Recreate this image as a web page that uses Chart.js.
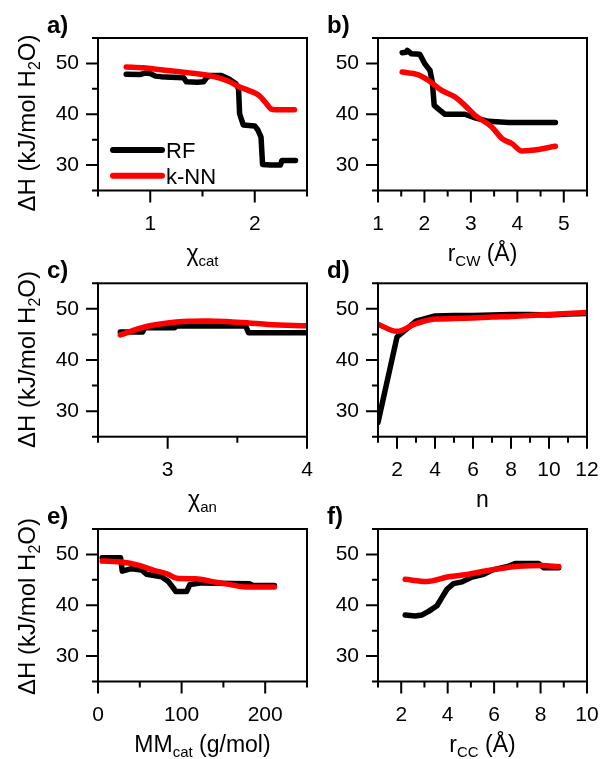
<!DOCTYPE html>
<html>
<head>
<meta charset="utf-8">
<script src="https://cdn.jsdelivr.net/npm/chart.js@4.4.1/dist/chart.umd.min.js"></script>
<style>
  html, body { margin: 0; padding: 0; background: #fff; }
  #page { position: relative; width: 600px; height: 759px; overflow: hidden; background: #fff; }
  #page canvas { position: absolute; left: 0; top: 0; }
</style>
</head>
<body>
<div id="page"></div>
<script>
// ---- shared value axis (ΔH, kJ/mol H2O) ----
const yMin = 25, yMax = 55;
const yMajorTicks = [30, 40, 50];
const yMinorTicks = [25, 35, 45, 55];

// ---- a) electronegativity of the cation ----
const xcatRange = [0.5, 2.5];
const xcatTicks = [1, 2];
const xcatMinor = [0.5, 1.5, 2.5];
const xcatRF_x  = [0.77, 0.90, 0.95, 1.00, 1.05, 1.10, 1.20, 1.32, 1.345, 1.45, 1.51, 1.54, 1.57, 1.68, 1.75, 1.82, 1.845, 1.855, 1.89, 2.00, 2.03, 2.06, 2.075, 2.15, 2.245, 2.26, 2.39];
const xcatRF_y  = [47.85, 47.8, 48.1, 48.0, 47.5, 47.4, 47.3, 47.2, 46.4, 46.3, 46.4, 47.2, 47.6, 47.6, 47.0, 46.0, 45.0, 40.1, 37.9, 37.7, 36.9, 35.5, 30.1, 30.0, 30.0, 30.9, 30.9];
const xcatKNN_x = [0.77, 0.94, 1.10, 1.26, 1.43, 1.59, 1.75, 1.85, 1.94, 2.04, 2.10, 2.16, 2.20, 2.38];
const xcatKNN_y = [49.3, 49.15, 48.75, 48.4, 48.0, 47.5, 46.5, 45.4, 44.7, 43.7, 42.4, 41.0, 40.9, 40.9];

// ---- b) cation-water distance ----
const rcwRange = [1, 5.5];
const rcwTicks = [1, 2, 3, 4, 5];
const rcwMinor = [1.5, 2.5, 3.5, 4.5, 5.5];
const rcwRF_x  = [1.52, 1.60, 1.63, 1.72, 1.90, 2.01, 2.12, 2.17, 2.21, 2.33, 2.44, 2.87, 3.09, 3.38, 3.81, 4.82];
const rcwRF_y  = [52.1, 52.2, 52.55, 51.9, 51.8, 49.9, 48.6, 46.3, 41.75, 40.8, 40.0, 40.0, 39.3, 38.6, 38.4, 38.4];
const rcwKNN_x = [1.52, 1.86, 2.08, 2.37, 2.66, 2.87, 3.09, 3.45, 3.67, 3.88, 4.10, 4.31, 4.82];
const rcwKNN_y = [48.3, 47.8, 46.7, 44.7, 43.4, 41.75, 39.8, 37.5, 35.2, 34.25, 32.75, 32.9, 33.7];

// ---- c) electronegativity of the anion ----
const xanRange = [2.5, 4];
const xanTicks = [3, 4];
const xanMinor = [2.5, 3.5];
const xanRF_x  = [2.66, 2.82, 2.835, 3.05, 3.065, 3.56, 3.58, 4.0];
const xanRF_y  = [45.5, 45.5, 46.3, 46.3, 46.65, 46.65, 45.35, 45.35];
const xanKNN_x = [2.66, 2.84, 2.96, 3.15, 3.29, 3.44, 3.58, 3.72, 4.0];
const xanKNN_y = [44.9, 46.5, 47.1, 47.6, 47.65, 47.5, 47.25, 46.95, 46.7];

// ---- d) hydration number ----
const nRange = [1, 12];
const nTicks = [2, 4, 6, 8, 10, 12];
const nMinor = [1, 3, 5, 7, 9, 11];
const nValues = [1, 2, 3, 4, 5, 6, 7, 8, 9, 10, 11, 12];
const nRF_y   = [27.8, 44.5, 47.6, 48.6, 48.7, 48.7, 48.8, 48.9, 48.9, 48.8, 49.0, 49.1];
const nKNN_y  = [47.0, 45.6, 47.1, 48.0, 48.1, 48.2, 48.4, 48.5, 48.7, 48.9, 49.1, 49.3];

// ---- e) molar mass of the cation ----
const mmRange = [0, 250];
const mmTicks = [0, 100, 200];
const mmMinor = [50, 150, 250];
const mmRF_x  = [5, 27, 29, 40, 52, 58, 76, 84, 91, 93, 106, 110, 124, 181, 185, 211];
const mmRF_y  = [49.35, 49.35, 46.7, 47.2, 46.95, 46.1, 45.6, 44.7, 43.2, 42.7, 42.7, 44.1, 44.4, 44.25, 43.95, 43.9];
const mmKNN_x = [5, 28, 48, 66, 82.5, 94.6, 116.7, 137, 157, 177, 211];
const mmKNN_y = [48.7, 48.5, 47.9, 46.9, 46.2, 45.3, 45.2, 44.65, 44.1, 43.6, 43.6];

// ---- f) cation-cation distance ----
const rccRange = [1, 10];
const rccTicks = [2, 4, 6, 8, 10];
const rccMinor = [1, 3, 5, 7, 9];
const rccRF_x  = [2.17, 2.6, 2.9, 3.18, 3.54, 3.75, 3.97, 4.25, 4.62, 5.05, 5.55, 5.9, 6.63, 6.91, 7.92, 8.13, 8.78];
const rccRF_y  = [38.1, 37.9, 38.1, 38.8, 39.9, 41.5, 43.15, 44.25, 44.6, 45.55, 46.1, 46.9, 47.7, 48.2, 48.2, 47.4, 47.4];
const rccKNN_x = [2.17, 3.1, 4.04, 4.9, 5.62, 6.34, 7.06, 8.06, 8.78];
const rccKNN_y = [45.1, 44.65, 45.6, 46.1, 46.75, 47.25, 47.65, 47.8, 47.6];

const seriesNames = ['RF', 'k-NN'];
const seriesColors = ['#000000', '#ff0000'];

// ---- page layout ----
const W = 600, H = 759;
const FONT = "'Liberation Sans', Arial, sans-serif";
const AXIS_W = 50, AXIS_H = 50;
const COLS = [[98, 307], [378, 587]];
const ROWS = [[38, 190.5], [283.3, 436.7], [529, 681.5]];
const Y_TITLE_CENTERS = [123, 359.5, 606.5];

Chart.defaults.font.family = FONT;
Chart.defaults.color = '#000';

const zip = (xs, ys) => xs.map((x, i) => ({ x, y: ys[i] }));

const panels = [
  { tag: 'a)', col: 0, row: 0, range: xcatRange, ticks: xcatTicks, minor: xcatMinor,
    rf: zip(xcatRF_x, xcatRF_y), knn: zip(xcatKNN_x, xcatKNN_y),
    title: [{ t: 'χ' }, { t: 'cat', sub: true }], legend: true },
  { tag: 'b)', col: 1, row: 0, range: rcwRange, ticks: rcwTicks, minor: rcwMinor,
    rf: zip(rcwRF_x, rcwRF_y), knn: zip(rcwKNN_x, rcwKNN_y),
    title: [{ t: 'r' }, { t: 'CW', sub: true }, { t: ' (Å)' }] },
  { tag: 'c)', col: 0, row: 1, range: xanRange, ticks: xanTicks, minor: xanMinor,
    rf: zip(xanRF_x, xanRF_y), knn: zip(xanKNN_x, xanKNN_y),
    title: [{ t: 'χ' }, { t: 'an', sub: true }] },
  { tag: 'd)', col: 1, row: 1, range: nRange, ticks: nTicks, minor: nMinor,
    rf: zip(nValues, nRF_y), knn: zip(nValues, nKNN_y),
    title: [{ t: 'n' }] },
  { tag: 'e)', col: 0, row: 2, range: mmRange, ticks: mmTicks, minor: mmMinor,
    rf: zip(mmRF_x, mmRF_y), knn: zip(mmKNN_x, mmKNN_y),
    title: [{ t: 'MM' }, { t: 'cat', sub: true }, { t: ' (g/mol)' }] },
  { tag: 'f)', col: 1, row: 2, range: rccRange, ticks: rccTicks, minor: rccMinor,
    rf: zip(rccRF_x, rccRF_y), knn: zip(rccKNN_x, rccKNN_y),
    title: [{ t: 'r' }, { t: 'CC', sub: true }, { t: ' (Å)' }] }
];

// Draws a run of text with subscript pieces, centred on (x, y) baseline.
function drawRich(ctx, segs, x, y, size, subSize, subShift, rotate) {
  ctx.save();
  ctx.translate(x, y);
  if (rotate) ctx.rotate(-Math.PI / 2);
  ctx.textAlign = 'left';
  ctx.textBaseline = 'alphabetic';
  ctx.fillStyle = '#000';
  let total = 0;
  const widths = segs.map(s => {
    ctx.font = (s.sub ? subSize : size) + 'px ' + FONT;
    const w = ctx.measureText(s.t).width;
    total += w;
    return w;
  });
  let cx = -total / 2;
  segs.forEach((s, i) => {
    ctx.font = (s.sub ? subSize : size) + 'px ' + FONT;
    ctx.fillText(s.t, cx, s.sub ? subShift : 0);
    cx += widths[i];
  });
  ctx.restore();
}

// Frame, tick marks, titles, panel tag and legend for each panel.
const panelDecor = {
  id: 'panelDecor',
  afterDraw(chart, args, opts) {
    const ctx = chart.ctx;
    const a = chart.chartArea;
    const xs = chart.scales.x, ys = chart.scales.y;
    ctx.save();
    ctx.strokeStyle = '#000';
    ctx.lineWidth = 2;
    ctx.lineCap = 'butt';
    ctx.strokeRect(a.left, a.top, a.right - a.left, a.bottom - a.top);
    ctx.beginPath();
    const tickX = (vals, len) => vals.forEach(v => {
      const px = xs.getPixelForValue(v);
      ctx.moveTo(px, a.bottom); ctx.lineTo(px, a.bottom + len);
    });
    const tickY = (vals, len) => vals.forEach(v => {
      const py = ys.getPixelForValue(v);
      ctx.moveTo(a.left, py); ctx.lineTo(a.left - len, py);
    });
    tickX(opts.xMajor, 12); tickX(opts.xMinor, 6);
    tickY(yMajorTicks, 12); tickY(yMinorTicks, 6);
    ctx.stroke();

    // panel tag
    ctx.fillStyle = '#000';
    ctx.font = 'bold 24px ' + FONT;
    ctx.textAlign = 'left';
    ctx.textBaseline = 'alphabetic';
    ctx.fillText(opts.tag, a.left - 51, a.top - 5);

    // x title
    drawRich(ctx, opts.title, (a.left + a.right) / 2, a.bottom + 70, 23, 15, 5, false);

    // y title on the left column
    if (opts.yTitle) {
      drawRich(ctx, [{ t: 'ΔH (kJ/mol H' }, { t: '2', sub: true }, { t: 'O)' }],
        35, opts.yTitleCenter, 24, 16, 5, true);
    }

    // legend
    if (opts.legend) {
      chart.data.datasets.forEach((ds, i) => {
        const y = a.top + 112 + i * 25.7;
        ctx.strokeStyle = ds.borderColor;
        ctx.lineWidth = 6;
        ctx.lineCap = 'round';
        ctx.beginPath();
        ctx.moveTo(a.left + 15, y);
        ctx.lineTo(a.left + 64, y);
        ctx.stroke();
        ctx.fillStyle = '#000';
        ctx.font = '22px ' + FONT;
        ctx.textAlign = 'left';
        ctx.textBaseline = 'alphabetic';
        ctx.fillText(ds.label, a.left + 68, y + 8);
      });
    }
    ctx.restore();
  }
};

const page = document.getElementById('page');

panels.forEach(p => {
  const cv = document.createElement('canvas');
  cv.width = W; cv.height = H;
  cv.style.width = W + 'px'; cv.style.height = H + 'px';
  page.appendChild(cv);
  const [left, right] = COLS[p.col];
  const [top, bottom] = ROWS[p.row];

  const lineStyle = { pointRadius: 0, borderWidth: 5.5, borderCapStyle: 'round', borderJoinStyle: 'round', fill: false };

  new Chart(cv, {
    type: 'line',
    data: {
      datasets: [
        Object.assign({ label: seriesNames[0], data: p.rf, borderColor: seriesColors[0], tension: 0, order: 1 }, lineStyle),
        Object.assign({ label: seriesNames[1], data: p.knn, borderColor: seriesColors[1], cubicInterpolationMode: 'monotone', order: 0 }, lineStyle)
      ]
    },
    options: {
      responsive: false,
      animation: false,
      devicePixelRatio: 1,
      events: [],
      layout: {
        autoPadding: false,
        padding: { left: left - AXIS_W, top: top, right: W - right, bottom: H - bottom - AXIS_H }
      },
      plugins: {
        legend: { display: false },
        tooltip: { enabled: false },
        panelDecor: {
          tag: p.tag, title: p.title, xMajor: p.ticks, xMinor: p.minor,
          yTitle: p.col === 0, yTitleCenter: Y_TITLE_CENTERS[p.row], legend: !!p.legend
        }
      },
      scales: {
        x: {
          type: 'linear', min: p.range[0], max: p.range[1],
          grid: { display: false, drawTicks: false },
          border: { display: false },
          afterBuildTicks: s => { s.ticks = p.ticks.map(v => ({ value: v })); },
          afterFit: s => { s.height = AXIS_H; s.paddingLeft = 0; s.paddingRight = 0; },
          ticks: { padding: 21, font: { size: 21 }, color: '#000', maxRotation: 0, autoSkip: false,
                   callback: v => String(v) }
        },
        y: {
          type: 'linear', min: yMin, max: yMax,
          grid: { display: false, drawTicks: false },
          border: { display: false },
          afterBuildTicks: s => { s.ticks = yMajorTicks.map(v => ({ value: v })); },
          afterFit: s => { s.width = AXIS_W; s.paddingTop = 0; s.paddingBottom = 0; },
          ticks: { padding: 19, font: { size: 21 }, color: '#000', autoSkip: false,
                   callback: v => String(v) }
        }
      }
    },
    plugins: [panelDecor]
  });
});
</script>
</body>
</html>
